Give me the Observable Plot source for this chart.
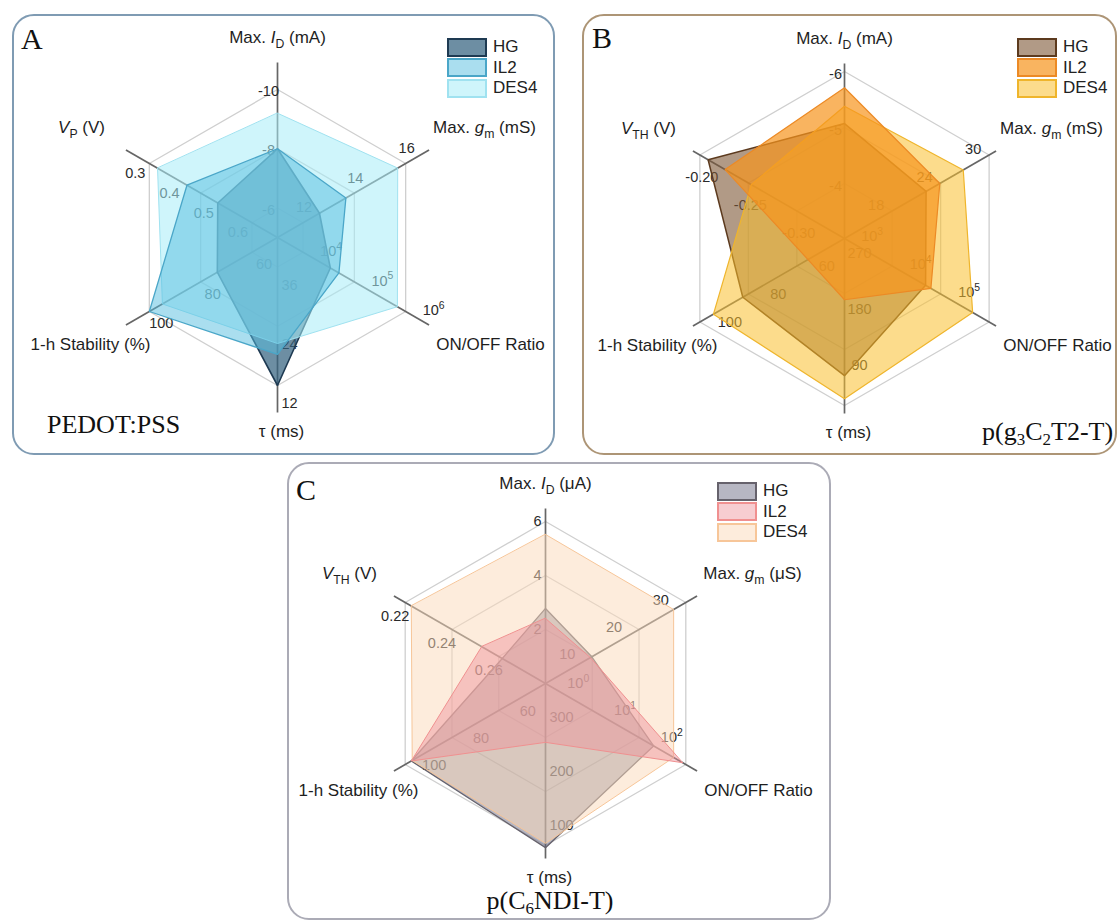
<!DOCTYPE html>
<html><head><meta charset="utf-8">
<script src="https://cdn.jsdelivr.net/npm/d3@7"></script>
<script src="https://cdn.jsdelivr.net/npm/@observablehq/plot@0.6"></script>
<style>
body{margin:0;background:#fff;}
#root{position:relative;width:1117px;height:920px;overflow:hidden;font-family:"Liberation Sans",Arial,sans-serif;background:#fff;}
.frame{position:absolute;box-sizing:border-box;border:2px solid;border-radius:22px;}
.plot{position:absolute;}
.letter{position:absolute;font-family:"Liberation Serif","Times New Roman",serif;font-size:30px;line-height:30px;color:#111;}
.material{position:absolute;font-family:"Liberation Serif","Times New Roman",serif;font-size:26px;line-height:20px;color:#111;white-space:nowrap;}
.material sub{font-size:17px;vertical-align:-5px;line-height:0;}
.legend{position:absolute;}
.legend .row{display:flex;align-items:center;height:20.5px;}
.legend .sw{box-sizing:border-box;width:40px;height:19px;border:2px solid;}
.legend .lab{margin-left:6px;font-size:17px;color:#222;}
</style></head><body><div id="root"></div>
<script>
// ---------------- data ----------------
const seriesNames = ["HG", "IL2", "DES4"];
const logAxis = [false, false, true, false, false, false];

// Panel A: PEDOT:PSS
const titlesA = ["Max. *I*_{D} (mA)", "Max. *g*_{m} (mS)", "ON/OFF Ratio", "τ (ms)", "1-h Stability (%)", "*V*_{P} (V)"];
const ticksA = [[-10, -8, -6], [16, 14, 12], [1e6, 1e5, 1e4], [12, 24, 36], [100, 80, 60], [0.3, 0.4, 0.5, 0.6]];
const tickTextA = [["-10", "-8", "-6"], ["16", "14", "12"], ["10^{6}", "10^{5}", "10^{4}"], ["12", "24", "36"], ["100", "80", "60"], ["0.3", "0.4", "0.5", "0.6"]];
const hgA = [-8.0, 12.64, 34000, 12.0, 73.5, 0.50];
const il2A = [-8.0, 13.67, 50000, 18.3, 100, 0.41];
const des4A = [-9.2, 15.69, 690000, 20.5, 94.9, 0.324];

// Panel B: p(g3C2T2-T)
const titlesB = ["Max. *I*_{D} (mA)", "Max. *g*_{m} (mS)", "ON/OFF Ratio", "τ (ms)", "1-h Stability (%)", "*V*_{TH} (V)"];
const ticksB = [[-6, -5, -4], [30, 24, 18], [1e5, 1e4, 1e3], [90, 180, 270], [100, 80, 60], [-0.20, -0.25, -0.30]];
const tickTextB = [["-6", "-5", "-4"], ["30", "24", "18"], ["10^{5}", "10^{4}", "10^{3}"], ["90", "180", "270"], ["100", "80", "60"], ["-0.20", "-0.25", "-0.30"]];
const hgB = [-5.07, 22.2, 4900, 138, 82.3, -0.2085];
const il2B = [-5.71, 23.9, 6300, 260, 55.4, -0.226];
const des4B = [-5.38, 26.8, 45700, 101, 94.4, -0.253];

// Panel C: p(C6NDI-T)
const titlesC = ["Max. *I*_{D} (μA)", "Max. *g*_{m} (μS)", "ON/OFF Ratio", "τ (ms)", "1-h Stability (%)", "*V*_{TH} (V)"];
const ticksC = [[6, 4, 2], [30, 20, 10], [100, 10, 1], [100, 200, 300], [100, 80, 60], [0.22, 0.24, 0.26]];
const tickTextC = [["6", "4", "2"], ["30", "20", "10"], ["10^{2}", "10^{1}", "10^{0}"], ["100", "200", "300"], ["100", "80", "60"], ["0.22", "0.24", "0.26"]];
const hgC = [2.78, 9.9, 20.5, 96, 97.4, 0.2615];
const il2C = [2.41, 9.6, 86, 291, 97.4, 0.2527];
const des4C = [5.52, 27.4, 55, 104, 97.0, 0.2226];

// ---------------- layout / style ----------------
const titleOff = [[0, -200], [207, -110], [213, 107], [4, 194], [-187, 107], [-196, -110]];
const axisLen = 175;

const panels = [
  {letter: "A", box: [12, 14, 543, 441], center: [277, 237], rings: [29.5, 88.75, 148], border: "#7f9bb3",
   titles: titlesA, ticks: ticksA, tickText: tickTextA, series: [hgA, il2A, des4A],
   labelOff: [[-9, 2], [1, -15], [28, -1], [12, 18], [12, 12], [-14, 10]],
   fill: ["#34627f", "#55bddf", "#a8ecf8"], alpha: [0.72, 0.5, 0.55],
   stroke: ["#1e3a52", "#4aa6c8", "#a0e2f0"], sw: [1.6, 1.3, 1.0],
   letterPos: [9, 10], legendPos: [435, 23],
   material: "PEDOT:PSS", matStyle: "left:35px;top:401px;"},
  {letter: "B", box: [582, 14, 535, 441], center: [844, 238], rings: [55, 111, 167], border: "#ad9576",
   titles: titlesB, ticks: ticksB, tickText: tickTextB, series: [hgB, il2B, des4B],
   labelOff: [[-9, 3], [-16, -6], [-20, -30], [15, -40], [30, 0], [2, 22]],
   fill: ["#7d5735", "#f7941d", "#f9bf2e"], alpha: [0.6, 0.7, 0.55],
   stroke: ["#5c3a1e", "#ec8a25", "#efb52c"], sw: [1.5, 1.2, 1.2],
   letterPos: [10, 9], legendPos: [435, 23],
   material: "p(g<sub>3</sub>C<sub>2</sub>T2-T)", matStyle: "left:400px;top:408px;"},
  {letter: "C", box: [287, 462, 544, 458], center: [545, 683], rings: [54, 108, 162], border: "#ababb6",
   titles: titlesC, ticks: ticksC, tickText: tickTextC, series: [hgC, il2C, des4C],
   labelOff: [[-8, 0], [-25, -2], [-14, -27], [16, -20], [29, 1], [-10, 14]],
   fill: ["#60607a", "#ee9099", "#fbd9b9"], alpha: [0.45, 0.45, 0.5],
   stroke: ["#66626c", "#f09090", "#f7c699"], sw: [1.3, 1.0, 1.0],
   letterPos: [9, 13], legendPos: [430, 19],
   material: "p(C<sub>6</sub>NDI-T)", matStyle: "left:263px;top:429px;transform:translateX(-50%);"}
];

// ---------------- helpers ----------------
const NS = "http://www.w3.org/2000/svg";
function richify(el) {
  const s = el.textContent;
  if (!/[\*_\^]/.test(s)) return;
  const base = parseFloat(getComputedStyle(el).fontSize) || 14;
  el.textContent = "";
  const parts = s.split(/(\*[^*]+\*|_\{[^}]*\}|\^\{[^}]*\})/).filter(x => x);
  let shift = 0;
  for (const part of parts) {
    const t = document.createElementNS(NS, "tspan");
    let txt = part, target = 0;
    if (part.startsWith("*")) { txt = part.slice(1, -1); t.setAttribute("font-style", "italic"); }
    else if (part.startsWith("_{")) { txt = part.slice(2, -1); target = 0.3 * base; t.setAttribute("font-size", (0.72 * base) + "px"); }
    else if (part.startsWith("^{")) { txt = part.slice(2, -1); target = -0.42 * base; t.setAttribute("font-size", (0.72 * base) + "px"); }
    const dy = target - shift;
    if (dy) t.setAttribute("dy", dy + "px");
    shift = target;
    t.textContent = txt;
    el.appendChild(t);
  }
}

const root = document.getElementById("root");
const ang = k => Math.PI / 2 - k * Math.PI / 3;

for (const p of panels) {
  const [px, py, pw, ph] = p.box;
  const frame = document.createElement("div");
  frame.className = "frame";
  frame.style.cssText = `left:${px}px;top:${py}px;width:${pw}px;height:${ph}px;border-color:${p.border};`;
  root.appendChild(frame);

  const lcx = p.center[0] - px, lcy = p.center[1] - py;
  const tf = (k, v) => logAxis[k] ? Math.log10(v) : v;
  const rad = (k, v) => {
    const t = p.ticks[k], vo = t[0], vi = t[t.length - 1];
    const ri = p.rings[0], ro = p.rings[p.rings.length - 1];
    return ri + (tf(k, v) - tf(k, vi)) / (tf(k, vo) - tf(k, vi)) * (ro - ri);
  };
  const pt = (k, r) => [r * Math.cos(ang(k)), r * Math.sin(ang(k))];

  const ringPts = p.rings.flatMap((r, i) => d3.range(6).map(k => ({ring: i, x: pt(k, r)[0], y: pt(k, r)[1]})));
  const axisEnds = d3.range(6).map(k => ({x: pt(k, axisLen)[0], y: pt(k, axisLen)[1]}));
  const tickData = p.ticks.flatMap((vals, k) => vals.map((v, j) => {
    const [x, y] = pt(k, rad(k, v));
    return {x: x + p.labelOff[k][0], y: y - p.labelOff[k][1], text: p.tickText[k][j]};
  }));
  const titleData = p.titles.map((t, k) => ({x: titleOff[k][0], y: -titleOff[k][1], text: t}));
  const polys = p.series.map((vals, s) => vals.map((v, k) => {
    const [x, y] = pt(k, rad(k, v));
    return {s, x, y};
  }));
  const order = [0, 2, 1];

  const chart = Plot.plot({
    width: pw, height: ph, margin: 0,
    x: {domain: [-lcx, pw - lcx], range: [0, pw], axis: null},
    y: {domain: [-(ph - lcy), lcy], range: [ph, 0], axis: null},
    style: {background: "transparent", fontFamily: '"Liberation Sans", Arial, sans-serif', overflow: "visible"},
    marks: [
      Plot.line(ringPts, {x: "x", y: "y", z: "ring", curve: "linear-closed", stroke: "#cfcfcf", strokeWidth: 1.3}),
      Plot.link(axisEnds, {x1: 0, y1: 0, x2: "x", y2: "y", stroke: "#666", strokeWidth: 1.7}),
      Plot.text(tickData, {x: "x", y: "y", text: "text", fill: "#2a2a2a", fontSize: 14.5}),
      Plot.text(titleData, {x: "x", y: "y", text: "text", fill: "#1e1e1e", fontSize: 17}),
      ...order.map(s => Plot.line(polys[s], {x: "x", y: "y", curve: "linear-closed",
        fill: p.fill[s], fillOpacity: p.alpha[s], stroke: p.stroke[s], strokeWidth: p.sw[s], strokeLinejoin: "miter"}))
    ]
  });
  chart.classList.add("plot");
  chart.style.left = px + "px";
  chart.style.top = py + "px";
  root.appendChild(chart);
  chart.querySelectorAll("text").forEach(richify);

  const letter = document.createElement("div");
  letter.className = "letter";
  letter.textContent = p.letter;
  letter.style.left = (px + p.letterPos[0]) + "px";
  letter.style.top = (py + p.letterPos[1]) + "px";
  root.appendChild(letter);

  const mat = document.createElement("div");
  mat.className = "material";
  mat.innerHTML = p.material;
  mat.style.cssText = p.matStyle;
  mat.style.left = (px + parseFloat(p.matStyle.match(/left:([\d.]+)/)[1])) + "px";
  mat.style.top = (py + parseFloat(p.matStyle.match(/top:([\d.]+)/)[1])) + "px";
  root.appendChild(mat);

  const leg = document.createElement("div");
  leg.className = "legend";
  leg.style.left = (px + p.legendPos[0]) + "px";
  leg.style.top = (py + p.legendPos[1]) + "px";
  seriesNames.forEach((n, s) => {
    const row = document.createElement("div");
    row.className = "row";
    const sw = document.createElement("div");
    sw.className = "sw";
    const c = d3.color(p.fill[s]); c.opacity = p.alpha[s];
    sw.style.background = c.formatRgb();
    sw.style.borderColor = p.stroke[s];
    const lab = document.createElement("span");
    lab.className = "lab";
    lab.textContent = n;
    row.appendChild(sw); row.appendChild(lab);
    leg.appendChild(row);
  });
  root.appendChild(leg);
}
</script></body></html>
